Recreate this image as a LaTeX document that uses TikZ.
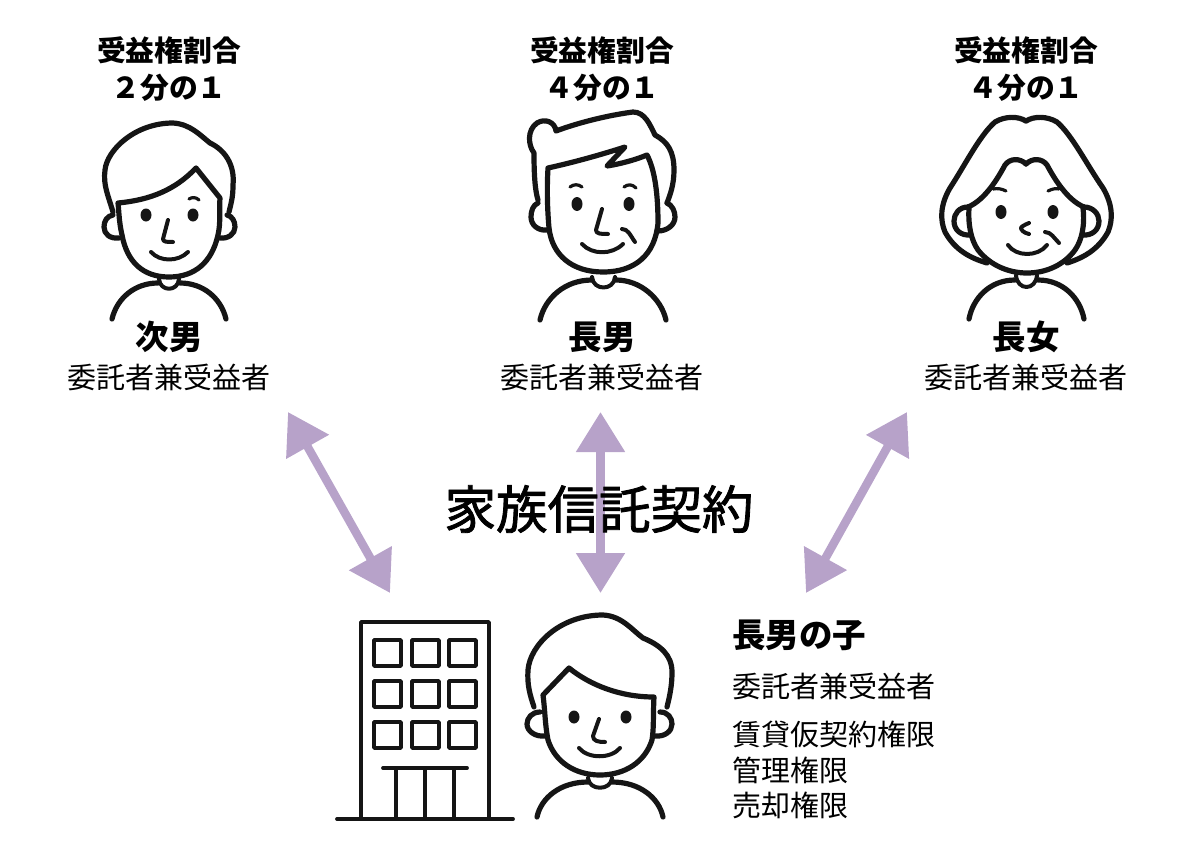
\documentclass[tikz,border=0pt]{standalone}
\usepackage{fontspec}
\setmainfont{Noto Sans CJK JP}
\newfontfamily\heavyfont[FakeBold=1.6]{Noto Sans CJK JP}
\usetikzlibrary{arrows.meta}

\definecolor{lilac}{HTML}{B7A2C9}
\definecolor{ink}{HTML}{151515}
\tikzset{
  x=1pt, y=-1pt,
  pen/.style={line width=5.2pt, line cap=round, line join=round, draw=ink},
  fine/.style={pen, line width=4pt},
  bldg/.style={line width=3.8pt, line cap=round, line join=round, draw=ink},
  share/.style={font=\bfseries\fontsize{28.8}{36.5}\selectfont, align=center, inner sep=0pt},
  who/.style={font=\bfseries\fontsize{33.5}{36}\selectfont, inner sep=0pt},
  role/.style={font=\fontsize{29}{35}\selectfont, inner sep=0pt},
  rolel/.style={role, anchor=west},
  link/.style={line width=8.5pt, draw=lilac, {Triangle[length=40pt,width=47pt,fill=lilac]}-{Triangle[length=40pt,width=47pt,fill=lilac]}},
}

\begin{document}
\begin{tikzpicture}
\useasboundingbox (0,0) rectangle (1200,851);

%Declare nodes.
\node[share] (share2) at (169,69) {受益権割合\\２分の１};
\node[share] (share1) at (602,69) {受益権割合\\４分の１};
\node[share] (share3) at (1026,69) {受益権割合\\４分の１};
\node[who] (jinan) at (169,337) {次男};
\node[who] (chonan) at (602,337) {長男};
\node[who] (chojo) at (1026,337) {長女};
\node[role] (role2) at (169,377) {委託者兼受益者};
\node[role] (role1) at (602,377) {委託者兼受益者};
\node[role] (role3) at (1026,377) {委託者兼受益者};
\node[who, anchor=west] (child) at (732,635) {長男の子};
\node[rolel] (childrole) at (732,686) {委託者兼受益者};
\node[rolel] (right1) at (732,734) {賃貸仮契約権限};
\node[rolel] (right2) at (732,770) {管理権限};
\node[rolel] (right3) at (732,805) {売却権限};

\coordinate (la) at (288,412);
\coordinate (lb) at (390,593);
\coordinate (ma) at (600.5,412);
\coordinate (mb) at (600.5,593);
\coordinate (ra) at (907,412);
\coordinate (rb) at (806,593);

%Setup edges.
\draw[link] (la) -- (lb);
\draw[link] (ma) -- (mb);
\draw[link] (ra) -- (rb);

\node[font=\heavyfont\fontsize{51.5}{55}\selectfont, inner sep=0pt] (contract) at (599,509) {家族信託契約};

%Second son.
\draw[pen] (113,212) .. controls (108,195) and (103,185) .. (105,170) .. controls (107,150) and (135,123) .. (173,123)
  .. controls (190,124) and (200,135) .. (210,143) .. controls (225,150) and (235,165) .. (233,185) .. controls (233,195) and (232,200) .. (229,212);
\draw[pen] (118,203) .. controls (150,200) and (175,190) .. (196,168) -- (220,198) .. controls (219,210) and (221,222) .. (218,235)
  .. controls (212,262) and (195,277) .. (169,277) .. controls (143,277) and (127,262) .. (122,235) .. controls (119,222) and (119,212) .. (118,203);
\draw[pen] (113,215) .. controls (107,216) and (104,221) .. (104,227) .. controls (104,234) and (110,239) .. (119,238);
\draw[pen] (227,215) .. controls (232,216) and (235,221) .. (235,227) .. controls (235,234) and (228,239) .. (220,238);
\fill[ink] (146,215) ellipse (5.5 and 6.5) (193,215) ellipse (5.5 and 6.5);
\draw[fine, line width=3.2pt] (189,199) .. controls (192,197) and (196,197) .. (199,200);
\draw[fine] (168,220) -- (163,239) .. controls (163,242) and (167,242) .. (173,242);
\draw[fine] (151,252) .. controls (160,262) and (178,262) .. (188,252);
\draw[fine] (159,279) .. controls (160,292) and (178,292) .. (179,279);
\draw[pen] (112,319) .. controls (117,298) and (135,283) .. (158,283);
\draw[pen] (180,283) .. controls (203,283) and (221,298) .. (226,319);

%Eldest son.
\draw[pen] (538,200) .. controls (535,190) and (534,175) .. (534,153) .. controls (528,145) and (527,130) .. (537,123)
  .. controls (545,118) and (555,122) .. (556,131) .. controls (580,122) and (610,115) .. (633,112) .. controls (645,112) and (650,125) .. (655,135)
  .. controls (668,142) and (674,152) .. (674,170) .. controls (674,185) and (670,195) .. (667,203);
\draw[pen] (548,168) .. controls (575,162) and (600,155) .. (625,147) -- (607,166) .. controls (620,164) and (635,160) .. (647,155)
  .. controls (655,170) and (658,195) .. (658,223) .. controls (655,255) and (635,272) .. (603,272) .. controls (572,272) and (552,255) .. (549,228) .. controls (547,205) and (547,185) .. (548,168);
\draw[pen] (538,203) .. controls (533,205) and (531,211) .. (531,217) .. controls (531,225) and (538,231) .. (547,230);
\draw[pen] (667,203) .. controls (672,205) and (675,211) .. (675,217) .. controls (675,225) and (667,231) .. (658,231);
\fill[ink] (577,204) ellipse (5.5 and 7) (629,204) ellipse (5.5 and 7);
\draw[fine, line width=3.2pt] (570,187) .. controls (574,184) and (578,184) .. (582,187);
\draw[fine, line width=3.2pt] (624,187) .. controls (628,184) and (632,184) .. (636,188);
\draw[fine] (602,209) -- (596,230) .. controls (596,234) and (601,234) .. (608,234);
\draw[fine] (622,229) .. controls (628,229) and (630,235) .. (635,242);
\draw[fine] (582,244) .. controls (592,255) and (612,255) .. (623,244);
\draw[fine] (592,277) .. controls (593,291) and (614,291) .. (615,277);
\draw[pen] (540,320) .. controls (545,298) and (565,280) .. (592,280);
\draw[pen] (616,280) .. controls (640,280) and (661,298) .. (666,320);

%Eldest daughter.
\draw[pen] (1026,121) .. controls (1018,116) and (1005,116) .. (995,122) .. controls (980,135) and (965,165) .. (950,188)
  .. controls (940,205) and (940,220) .. (945,232) .. controls (955,250) and (970,258) .. (987,263);
\draw[pen] (1026,121) .. controls (1034,116) and (1047,116) .. (1057,122) .. controls (1072,135) and (1087,165) .. (1103,188)
  .. controls (1113,205) and (1113,220) .. (1108,232) .. controls (1098,250) and (1083,258) .. (1067,263);
\draw[pen] (1026,164) .. controls (1020,158) and (1010,158) .. (1005,165) .. controls (998,178) and (985,200) .. (968,207);
\draw[pen] (1026,164) .. controls (1032,158) and (1042,158) .. (1047,165) .. controls (1054,178) and (1067,200) .. (1084,207);
\draw[pen] (969,208) .. controls (968,225) and (971,240) .. (978,250) .. controls (990,265) and (1008,273) .. (1027,273)
  .. controls (1046,273) and (1064,265) .. (1075,250) .. controls (1082,240) and (1085,225) .. (1083,208);
\draw[pen] (968,207) .. controls (959,207) and (954,214) .. (954,221) .. controls (954,230) and (961,236) .. (971,235);
\draw[pen] (1084,207) .. controls (1093,207) and (1099,214) .. (1099,221) .. controls (1099,230) and (1092,236) .. (1082,235);
\fill[ink] (1001,212) ellipse (5.5 and 7) (1053,212) ellipse (5.5 and 7);
\draw[fine, line width=3.2pt] (993,189) .. controls (998,188) and (1002,189) .. (1006,191);
\draw[fine, line width=3.2pt] (1048,191) .. controls (1052,189) and (1056,188) .. (1059,189);
\draw[fine] (1029,223) .. controls (1024,225) and (1021,227) .. (1021,228) .. controls (1021,230) and (1024,233) .. (1029,234);
\draw[fine] (1045,232) .. controls (1051,232) and (1054,238) .. (1059,243);
\draw[fine] (1008,245) .. controls (1016,257) and (1038,257) .. (1047,245);
\draw[fine] (1016,275) .. controls (1017,291) and (1036,291) .. (1037,275);
\draw[pen] (969,319) .. controls (973,298) and (990,280) .. (1015,280);
\draw[pen] (1038,280) .. controls (1063,280) and (1080,298) .. (1084,319);

%Building.
\draw[bldg] (361,818) -- (361,622) -- (489,622) -- (489,818);
\draw[bldg] (337,819) -- (513,819);
\foreach \wx in {374,412,449} {
  \foreach \wy in {640,681,722} {
    \draw[bldg] (\wx,\wy) rectangle ++(27,26);
  }
}
\draw[bldg] (383,768) -- (467,768);
\foreach \cx in {396,425,454} {
  \draw[bldg] (\cx,768) -- (\cx,819);
}

%Child.
\draw[pen] (534,707) .. controls (530,695) and (527,685) .. (528,670) .. controls (530,645) and (560,615) .. (603,615)
  .. controls (622,616) and (632,630) .. (643,638) .. controls (660,645) and (672,655) .. (672,672) .. controls (672,685) and (670,695) .. (667,707);
\draw[pen] (543,695) -- (569,668) .. controls (590,685) and (620,697) .. (654,697) .. controls (653,715) and (654,728) .. (652,740)
  .. controls (645,762) and (625,775) .. (600,775) .. controls (575,775) and (555,762) .. (548,740) .. controls (545,725) and (545,710) .. (543,695);
\draw[pen] (540,712) .. controls (532,712) and (527,718) .. (527,724) .. controls (527,731) and (535,737) .. (545,736);
\draw[pen] (660,712) .. controls (668,712) and (672,718) .. (672,724) .. controls (672,731) and (665,737) .. (655,736);
\fill[ink] (574,717) ellipse (5.5 and 6.5) (626,717) ellipse (5.5 and 6.5);
\draw[fine] (599,719) -- (593,736) .. controls (593,741) and (598,742) .. (605,742);
\draw[fine] (579,748) .. controls (588,759) and (611,759) .. (620,748);
\draw[fine] (588,778) .. controls (589,791) and (611,791) .. (612,778);
\draw[pen] (537,817) .. controls (541,798) and (560,782) .. (588,782);
\draw[pen] (612,782) .. controls (640,782) and (659,798) .. (663,817);

\end{tikzpicture}
\end{document}
